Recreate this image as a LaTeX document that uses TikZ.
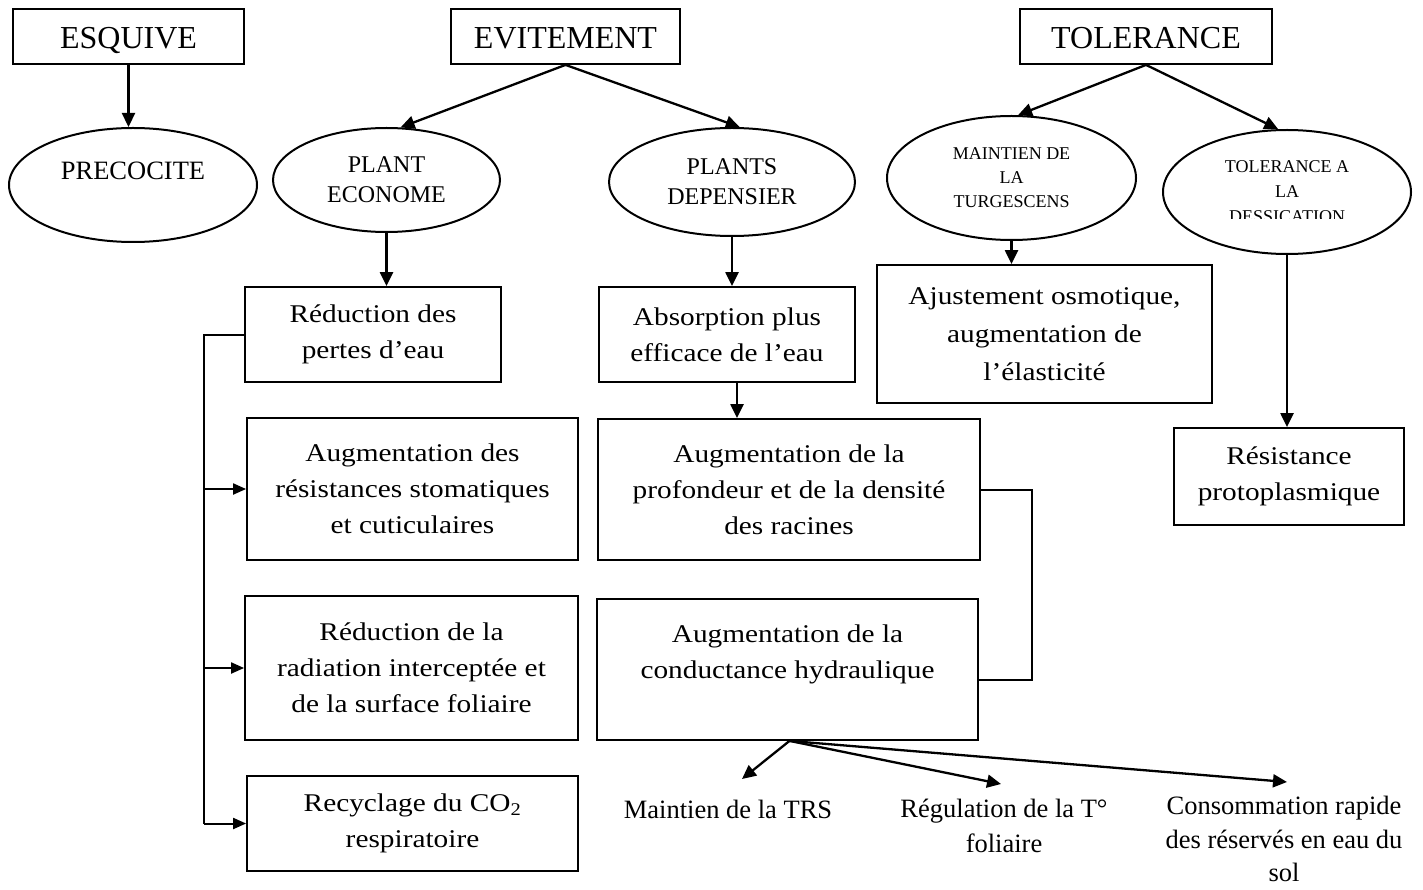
\documentclass[tikz,border=0pt]{standalone}
\usepackage{fontspec}
\setmainfont{Liberation Serif}
\newfontfamily\boxfont{Liberation Serif}[FakeStretch=1.15]
\usetikzlibrary{arrows.meta,shapes.geometric}
\tikzset{
  hdr/.style={draw, line width=1.8pt, minimum height=55pt, inner sep=0pt, text height=25pt, text depth=0pt, font=\fontsize{32}{38}\selectfont},
  ell/.style={draw, ellipse, line width=2pt, inner sep=0pt, align=center, font=\fontsize{24}{30}\selectfont},
  smallell/.style={font=\fontsize{18}{24}\selectfont},
  smalltxt/.style={inner sep=0pt, align=center, font=\fontsize{18}{25}\selectfont},
  elltxt/.style={inner sep=0pt, align=center, font=\fontsize{26.5}{30}\selectfont},
  bx/.style={draw, line width=1.8pt, inner sep=0pt, align=center, font=\boxfont\fontsize{25.5}{36}\selectfont},
  bt/.style={inner sep=0pt, align=center, font=\fontsize{26.5}{35}\selectfont},
  arr/.style={line width=2.3pt, -{Triangle[length=14pt,width=13pt]}},
  arrs/.style={line width=2pt, -{Triangle[length=13pt,width=11pt]}},
  ln/.style={line width=2pt},
}
\begin{document}
\begin{tikzpicture}[x=1pt,y=-1pt]
\useasboundingbox (0,0) rectangle (1423,890);
% headers
\node[hdr, minimum width=231pt] (esq) at (128.5,36.5) {ESQUIVE};
\node[hdr, minimum width=229pt] (evi) at (565.5,36.5) {EVITEMENT};
\node[hdr, minimum width=252pt] (tol) at (1146,36.5) {TOLERANCE};
% ellipses
\node[ell, minimum width=248pt, minimum height=114pt] (prec) at (133,185) {};
\node[elltxt] (precT) at (133,171) {PRECOCITE};
\node[ell, minimum width=227pt, minimum height=104pt] (pe) at (386.5,180) {PLANT\\ECONOME};
\node[ell, minimum width=246pt, minimum height=108pt] (pd) at (732,182) {PLANTS\\DEPENSIER};
\node[ell, smallell, minimum width=249pt, minimum height=124pt] (mt) at (1011.5,178) {MAINTIEN DE\\LA\\TURGESCENS};
\node[ell, minimum width=248pt, minimum height=124pt] (td) at (1287,192) {};
\begin{scope}
  \clip (1160,120) rectangle (1415,219);
  \node[smalltxt] (tdT) at (1287,192) {TOLERANCE A\\LA\\DESSICATION};
\end{scope}
% boxes
\node[bx, minimum width=256pt, minimum height=95pt] (red) at (373,334.5) {Réduction des\\pertes d’eau};
\node[bx, minimum width=331pt, minimum height=142pt] (aug) at (412.5,489) {Augmentation des\\résistances stomatiques\\et cuticulaires};
\node[bx, minimum width=333pt, minimum height=144pt] (rad) at (411.5,668) {Réduction de la\\radiation interceptée et\\de la surface foliaire};
\node[bx, minimum width=331pt, minimum height=95pt] (rec) at (412.5,823.5) {Recyclage du CO\textsubscript{2}\\respiratoire};
\node[bx, minimum width=256pt, minimum height=95pt] (abs) at (727,334.5) {Absorption plus\\efficace de l’eau};
\node[bx, minimum width=382pt, minimum height=141pt] (prof) at (789,489.5) {Augmentation de la\\profondeur et de la densité\\des racines};
\node[bx, minimum width=381pt, minimum height=141pt] (cond) at (787.5,669.5) {Augmentation de la\\conductance hydraulique\\\mbox{}};
\node[bx, minimum width=335pt, minimum height=138pt, font=\boxfont\fontsize{25.5}{38}\selectfont] (aj) at (1044.5,334) {Ajustement osmotique,\\augmentation de\\l’élasticité};
\node[bx, minimum width=230pt, minimum height=97pt] (res) at (1289,476.5) {Résistance\\protoplasmique};
% bottom texts
\node[bt] (trs) at (728,809) {Maintien de la TRS};
\node[bt] (reg) at (1004,826) {Régulation de la T°\\foliaire};
\node[bt, font=\fontsize{26.5}{33.5}\selectfont] (cons) at (1284,839) {Consommation rapide\\des réservés en eau du\\sol};
% arrows
\draw[arr] (esq.south) -- (esq.south |- prec.north);
\draw[arr] (evi.south) -- (pe.75);
\draw[arr] (evi.south) -- (pd.82);
\draw[arr] (tol.south) -- (mt.84);
\draw[arr] (tol.south) -- (td.98);
\draw[arr] (pe.south) -- (pe.south |- red.north);
\draw[arr] (pd.south) -- (pd.south |- abs.north);
\draw[arr] ([xshift=10pt]abs.south) -- ([xshift=10pt]abs.south |- prof.north);
\draw[arr] (mt.south) -- (mt.south |- aj.north);
\draw[arr] (td.south) -- (td.south |- res.north);
% left bracket
\coordinate (bxl) at (204,0);
\draw[ln] (red.west) -- (red.west -| bxl) -- (bxl |- rec.west);
\draw[arrs] (bxl |- aug.west) -- (aug.west);
\draw[arrs] (bxl |- rad.west) -- (rad.west);
\draw[arrs] (bxl |- rec.west) -- (rec.west);
% right bracket
\coordinate (bxr) at (1032,0);
\coordinate (c2) at ([yshift=-10pt]cond.east);
\draw[ln] (prof.east) -- (prof.east -| bxr) -- (bxr |- c2) -- (c2);
% bottom arrows
\coordinate (tA) at (742,779);
\coordinate (tB) at (1001,784);
\coordinate (tC) at (1287,782);
\draw[arr] ([xshift=2pt]cond.south) -- (tA);
\draw[arr] ([xshift=2pt]cond.south) -- (tB);
\draw[arr] ([xshift=2pt]cond.south) -- (tC);
\end{tikzpicture}
\end{document}
